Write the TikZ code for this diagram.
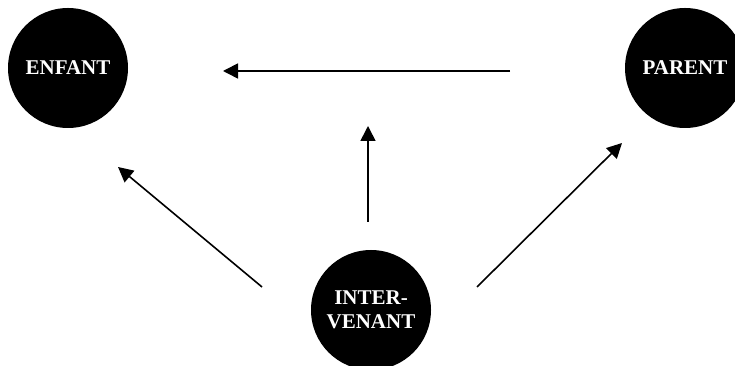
\documentclass[tikz,border=0pt]{standalone}
\usepackage{fontspec}
\setmainfont{Liberation Serif}
\usetikzlibrary{arrows.meta}
\begin{document}
\begin{tikzpicture}[x=1pt,y=1pt,
  disc/.style={circle,fill=black,inner sep=0pt,minimum size=120pt,text=white,
    font=\fontsize{21}{24}\selectfont\bfseries,align=center},
  link/.style={line width=1.6pt,-{Triangle[length=15pt,width=15pt]}}]
\useasboundingbox (0,0) rectangle (735,366);
\node[disc] (enfant) at (68,298) {ENFANT};
\node[disc] (parent) at (685,298) {PARENT};
\node[disc] (inter) at (371,56) {INTER-\\VENANT};
\coordinate (t1) at (510,295);
\coordinate (t2) at (223,295);
\coordinate (l1) at (262,79);
\coordinate (l2) at (118,199);
\coordinate (r1) at (477,79);
\coordinate (r2) at (622,223);
\coordinate (v1) at (368,144);
\coordinate (v2) at (368,240);
\draw[link] (t1) -- (t2);
\draw[link] (l1) -- (l2);
\draw[link] (r1) -- (r2);
\draw[link] (v1) -- (v2);
\end{tikzpicture}
\end{document}
